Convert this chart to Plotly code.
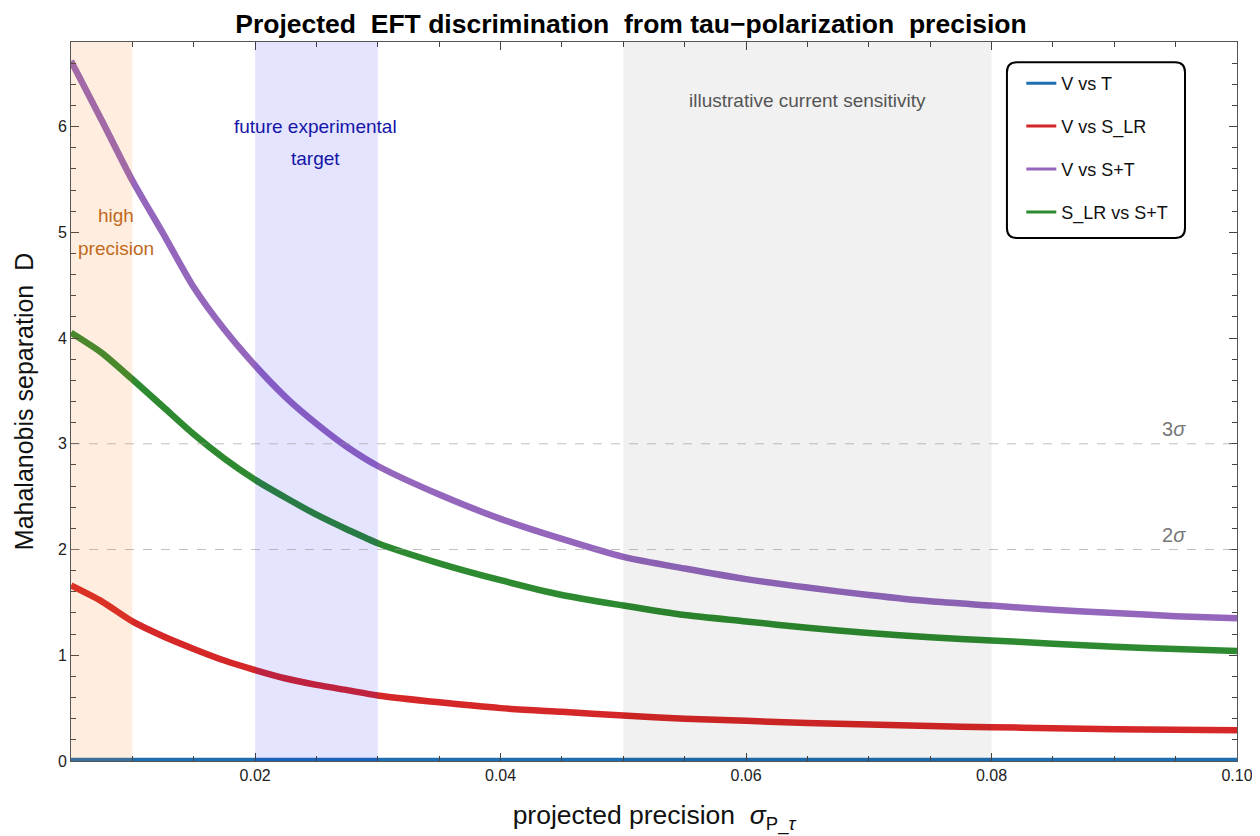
import plotly.graph_objects as go

# ---------------- data ----------------
sigma = [0.005, 0.0075, 0.01, 0.0125, 0.015, 0.0175, 0.02, 0.0225, 0.025, 0.0275, 0.03,
         0.035, 0.04, 0.045, 0.05, 0.055, 0.06, 0.065, 0.07, 0.075, 0.08, 0.085, 0.09, 0.095, 0.1]

d_v_t = [0.0] * len(sigma)
d_v_slr = [1.66, 1.51, 1.32, 1.18, 1.06, 0.95, 0.86, 0.78, 0.72, 0.67, 0.62,
           0.555, 0.50, 0.465, 0.43, 0.40, 0.38, 0.36, 0.345, 0.33, 0.32, 0.31, 0.30, 0.295, 0.29]
d_v_st = [6.62, 6.06, 5.49, 4.99, 4.48, 4.08, 3.74, 3.44, 3.19, 2.97, 2.79,
          2.52, 2.29, 2.10, 1.93, 1.82, 1.72, 1.64, 1.57, 1.51, 1.47, 1.43, 1.40, 1.37, 1.35]
d_slr_st = [4.05, 3.86, 3.61, 3.35, 3.09, 2.86, 2.66, 2.49, 2.33, 2.19, 2.06,
            1.87, 1.71, 1.57, 1.47, 1.38, 1.32, 1.26, 1.21, 1.17, 1.14, 1.11, 1.08, 1.06, 1.04]

series_names = ["V vs T", "V vs S_LR", "V vs S+T", "S_LR vs S+T"]
series_values = [d_v_t, d_v_slr, d_v_st, d_slr_st]
series_colors = ["#1f6fb0", "#d62728", "#9467bd", "#2e8a30"]

bands = [(0.005, 0.01, "rgba(255,127,14,0.13)"),
         (0.02, 0.03, "rgba(0,0,255,0.105)"),
         (0.05, 0.08, "rgba(0,0,0,0.055)")]

sigma_levels = [3, 2]
sigma_labels = ["3<i>σ</i>", "2<i>σ</i>"]

x_tickvals = [0.02, 0.04, 0.06, 0.08, 0.10]
x_ticktext = ["0.02", "0.04", "0.06", "0.08", "0.10"]
y_tickvals = [0, 1, 2, 3, 4, 5, 6]

FONT = "Liberation Sans, Arial, Helvetica, sans-serif"

# page body has an 8px margin -> figure is 8px smaller than the window
W, H = 1252, 828

fig = go.Figure()

# main curves
for name, vals, col in zip(series_names, series_values, series_colors):
    fig.add_trace(go.Scatter(x=sigma, y=vals, mode="lines", name=name,
                             line=dict(color=col, width=6.5, shape="spline", smoothing=0.7),
                             showlegend=False, hoverinfo="x+y+name"))

# legend entries (thin line samples)
for i, (name, col) in enumerate(zip(series_names, series_colors)):
    fig.add_trace(go.Scatter(x=[None], y=[None], mode="lines", name=name,
                             line=dict(color=col, width=3), legendgroup="g%d" % i,
                             showlegend=True))

shapes = []
for x0, x1, col in bands:
    shapes.append(dict(type="rect", xref="x", yref="paper", x0=x0, x1=x1, y0=0, y1=1,
                       fillcolor=col, line=dict(width=0), layer="above"))
for lv in sigma_levels:
    shapes.append(dict(type="line", xref="paper", yref="y", x0=0, x1=1, y0=lv, y1=lv,
                       line=dict(color="rgba(150,150,150,0.6)", width=1, dash="dash"),
                       layer="above"))

# rounded legend frame (paper coords)
lx0, lx1, ly0, ly1 = 0.8027, 0.9554, 0.7274, 0.972
rx, ry = 0.0086, 0.0139
path = (f"M {lx0+rx},{ly0} L {lx1-rx},{ly0} Q {lx1},{ly0} {lx1},{ly0+ry} "
        f"L {lx1},{ly1-ry} Q {lx1},{ly1} {lx1-rx},{ly1} L {lx0+rx},{ly1} "
        f"Q {lx0},{ly1} {lx0},{ly1-ry} L {lx0},{ly0+ry} Q {lx0},{ly0} {lx0+rx},{ly0} Z")
shapes.append(dict(type="path", xref="paper", yref="paper", path=path,
                   fillcolor="white", line=dict(color="black", width=2), layer="above"))

ann_font = 19
annotations = [
    dict(x=0.00867, y=5.16, text="high", font=dict(size=ann_font, color="#BF6A1C", family=FONT)),
    dict(x=0.00867, y=4.85, text="precision", font=dict(size=ann_font, color="#BF6A1C", family=FONT)),
    dict(x=0.0249, y=6.0, text="future experimental", font=dict(size=ann_font, color="#1515A8", family=FONT)),
    dict(x=0.0249, y=5.70, text="target", font=dict(size=ann_font, color="#1515A8", family=FONT)),
    dict(x=0.065, y=6.25, text="illustrative current sensitivity",
         font=dict(size=ann_font, color="#555555", family=FONT)),
]
for lv, lab in zip(sigma_levels, sigma_labels):
    annotations.append(dict(x=0.0960, y=lv + 0.14, text=lab, xanchor="right",
                            font=dict(size=20, color="#777777", family=FONT)))
for a in annotations:
    a.setdefault("xref", "x")
    a.setdefault("yref", "y")
    a.setdefault("showarrow", False)

fig.update_layout(
    width=W, height=H,
    margin=dict(l=63, r=23, t=34, b=75, autoexpand=False),
    paper_bgcolor="white", plot_bgcolor="white",
    font=dict(family=FONT, color="black"),
    title=dict(text="<b>Projected  EFT discrimination  from tau\u2212polarization  precision</b>",
               x=(631 - 8) / W, xanchor="center", xref="container",
               y=1 - 15.5 / H, yanchor="middle", yref="container",
               font=dict(size=26.5, family=FONT, color="black")),
    shapes=shapes,
    annotations=annotations,
    showlegend=True,
    legend=dict(x=0.815, y=0.968, xanchor="left", yanchor="top",
                bgcolor="rgba(0,0,0,0)", borderwidth=0,
                font=dict(size=18, family=FONT, color="#111"),
                traceorder="grouped", tracegroupgap=16.5, itemwidth=30),
    xaxis=dict(range=[0.005, 0.1], tickvals=x_tickvals, ticktext=x_ticktext,
               ticks="inside", ticklen=8, tickwidth=1, tickcolor="#444",
               minor=dict(dtick=0.005, tick0=0, ticks="inside", ticklen=5, tickcolor="#444"),
               showline=True, linecolor="#555", linewidth=1, mirror="ticks",
               showgrid=False, zeroline=False, automargin=False,
               tickfont=dict(size=16, color="#222"),
               title=dict(text="projected precision  <i>σ</i><sub>P_<i>τ</i></sub>",
                          font=dict(size=26.5, color="#111"), standoff=22)),
    yaxis=dict(range=[0, 6.8], tickvals=y_tickvals,
               ticks="inside", ticklen=8, tickwidth=1, tickcolor="#444",
               minor=dict(dtick=0.2, tick0=0, ticks="inside", ticklen=5, tickcolor="#444"),
               showline=True, linecolor="#555", linewidth=1, mirror="ticks",
               showgrid=False, zeroline=False, automargin=False,
               tickfont=dict(size=16, color="#222"),
               title=dict(text="Mahalanobis separation  D",
                          font=dict(size=25, color="#111"), standoff=17)),
)

fig.write_html("out.html")
